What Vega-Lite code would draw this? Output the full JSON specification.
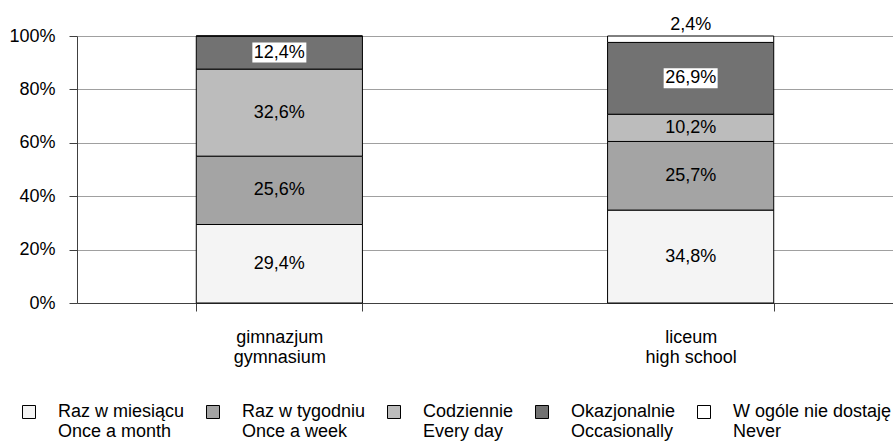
{
  "$schema": "https://vega.github.io/schema/vega-lite/v6.json",
  "width": 816,
  "height": 267,
  "autosize": {"type": "none"},
  "padding": {"left": 77, "top": 36, "right": 0, "bottom": 138},
  "config": {
    "locale": {"number": {"decimal": ",", "thousands": " ", "grouping": [3], "currency": ["", " zł"]}},
    "view": {"stroke": null},
    "font": "Liberation Sans"
  },
  "data": {
    "values": [
      {"school": "gimnazjum\ngymnasium", "category": "Raz w miesiącu\nOnce a month", "order": 1, "value": 0.294},
      {"school": "gimnazjum\ngymnasium", "category": "Raz w tygodniu\nOnce a week", "order": 2, "value": 0.256},
      {"school": "gimnazjum\ngymnasium", "category": "Codziennie\nEvery day", "order": 3, "value": 0.326},
      {"school": "gimnazjum\ngymnasium", "category": "Okazjonalnie\nOccasionally", "order": 4, "value": 0.124},
      {"school": "gimnazjum\ngymnasium", "category": "W ogóle nie dostaję\nNever", "order": 5, "value": 0.0},
      {"school": "liceum\nhigh school", "category": "Raz w miesiącu\nOnce a month", "order": 1, "value": 0.348},
      {"school": "liceum\nhigh school", "category": "Raz w tygodniu\nOnce a week", "order": 2, "value": 0.257},
      {"school": "liceum\nhigh school", "category": "Codziennie\nEvery day", "order": 3, "value": 0.102},
      {"school": "liceum\nhigh school", "category": "Okazjonalnie\nOccasionally", "order": 4, "value": 0.269},
      {"school": "liceum\nhigh school", "category": "W ogóle nie dostaję\nNever", "order": 5, "value": 0.024}
    ]
  },
  "transform": [
    {"stack": "value", "groupby": ["school"], "sort": [{"field": "order", "order": "ascending"}], "as": ["lo", "hi"]}
  ],
  "layer": [
    {
      "mark": {"type": "bar", "stroke": "black", "strokeWidth": 1},
      "encoding": {
        "x": {
          "field": "school", "type": "nominal", "sort": null, "title": null,
          "scale": {"paddingInner": 0.596, "paddingOuter": 0.29},
          "axis": {
            "labelAngle": 0,
            "labelExpr": "split(datum.label, '\\n')",
            "labelFontSize": 18,
            "labelColor": "black",
            "labelLineHeight": 20,
            "tickBand": "extent",
            "tickSize": 8,
            "tickColor": "#404040",
            "domainColor": "#404040",
            "labelPadding": 17,
            "grid": false
          }
        },
        "y": {
          "field": "lo", "type": "quantitative", "title": null,
          "scale": {"domain": [0, 1]},
          "axis": {
            "format": ".0%",
            "values": [0, 0.2, 0.4, 0.6, 0.8, 1],
            "labelFontSize": 18,
            "labelColor": "black",
            "tickSize": 8,
            "labelPadding": 14,
            "gridColor": "#a0a0a0",
            "domainColor": "#404040",
            "tickColor": "#404040"
          }
        },
        "y2": {"field": "hi"},
        "fill": {
          "field": "category", "type": "nominal", "sort": null,
          "scale": {
            "domain": ["Raz w miesiącu\nOnce a month", "Raz w tygodniu\nOnce a week", "Codziennie\nEvery day", "Okazjonalnie\nOccasionally", "W ogóle nie dostaję\nNever"],
            "range": ["#f4f4f4", "#a4a4a4", "#bcbcbc", "#727272", "#ffffff"]
          },
          "legend": {
            "title": null,
            "orient": "none",
            "legendX": -57,
            "legendY": 367,
            "direction": "horizontal",
            "columns": 5,
            "symbolType": "square",
            "symbolSize": 169,
            "symbolStrokeColor": "black",
            "symbolStrokeWidth": 1,
            "symbolOpacity": 1,
            "labelFontSize": 18,
            "labelColor": "black",
            "labelExpr": "split(datum.label, '\\n')",
            "labelLineHeight": 20,
            "labelOffset": 20,
            "columnPadding": 19,
            "labelLimit": 0
          }
        }
      }
    },
    {
      "transform": [
        {"filter": "datum.order == 4"},
        {"fold": ["lo", "hi"], "as": ["k", "pos"]},
        {"aggregate": [{"op": "mean", "field": "pos", "as": "mid"}], "groupby": ["school", "category", "order", "value"]}
      ],
      "mark": {"type": "point", "shape": "M-1,-0.37H1V0.37H-1Z", "size": 2916, "filled": true, "color": "white", "opacity": 1, "strokeWidth": 0},
      "encoding": {
        "x": {"field": "school", "type": "nominal", "sort": null, "title": null},
        "y": {"field": "mid", "type": "quantitative", "title": null}
      }
    },
    {
      "transform": [
        {"filter": "datum.order < 5 && datum.value > 0"},
        {"fold": ["lo", "hi"], "as": ["k", "pos"]},
        {"aggregate": [{"op": "mean", "field": "pos", "as": "mid"}], "groupby": ["school", "category", "order", "value"]}
      ],
      "mark": {"type": "text", "fontSize": 18, "color": "black", "baseline": "middle"},
      "encoding": {
        "x": {"field": "school", "type": "nominal", "sort": null, "title": null},
        "y": {"field": "mid", "type": "quantitative", "title": null},
        "text": {"field": "value", "type": "quantitative", "format": ".1%"}
      }
    },
    {
      "transform": [
        {"filter": "datum.order == 5 && datum.value > 0"}
      ],
      "mark": {"type": "text", "fontSize": 18, "color": "black", "baseline": "alphabetic", "dy": -6},
      "encoding": {
        "x": {"field": "school", "type": "nominal", "sort": null, "title": null},
        "y": {"field": "hi", "type": "quantitative", "title": null},
        "text": {"field": "value", "type": "quantitative", "format": ".1%"}
      }
    }
  ]
}
